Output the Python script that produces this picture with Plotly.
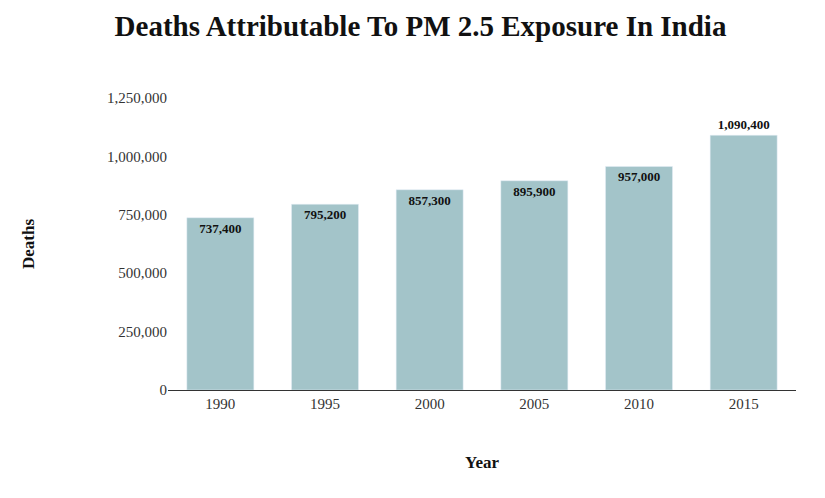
import plotly.graph_objects as go

years = ["1990", "1995", "2000", "2005", "2010", "2015"]
deaths = [737400, 795200, 857300, 895900, 957000, 1090400]
labels = ["737,400", "795,200", "857,300", "895,900", "957,000", "1,090,400"]
ytick_vals = [0, 250000, 500000, 750000, 1000000, 1250000]
ytick_text = ["0", "250,000", "500,000", "750,000", "1,000,000", "1,250,000"]

font = "Liberation Serif"
fig = go.Figure(go.Bar(
    x=years, y=deaths, text=labels,
    textposition=["inside"] * 5 + ["outside"],
    insidetextanchor="end",
    textfont=dict(family=font, size=13, color="#111"),
    texttemplate="<b>%{text}</b>",
    marker_color="#a3c4c9", cliponaxis=False,
))
fig.update_layout(
    width=825, height=498, plot_bgcolor="white", paper_bgcolor="white",
    margin=dict(l=160, r=37, t=90, b=116),
    bargap=0.36, showlegend=False,
    font=dict(family=font, size=15, color="#333"),
    title=dict(text="<b>Deaths Attributable To PM 2.5 Exposure In India</b>",
               x=0.5, xanchor="center", y=0.985, yanchor="top",
               font=dict(family=font, size=29, color="#111")),
    uniformtext=dict(minsize=13, mode="show"),
)
fig.update_yaxes(range=[0, 1250000], tickvals=ytick_vals, ticktext=ytick_text,
                 showgrid=False, zeroline=False, ticks="", ticklen=0,
                 title=dict(text="<b>Deaths</b>", font=dict(size=17, color="#111"), standoff=68))
fig.update_xaxes(showline=True, linecolor="#333", linewidth=1, ticks="",
                 title=dict(text="<b>Year</b>", font=dict(size=17, color="#111"), standoff=45))
fig.write_html("out.html")
